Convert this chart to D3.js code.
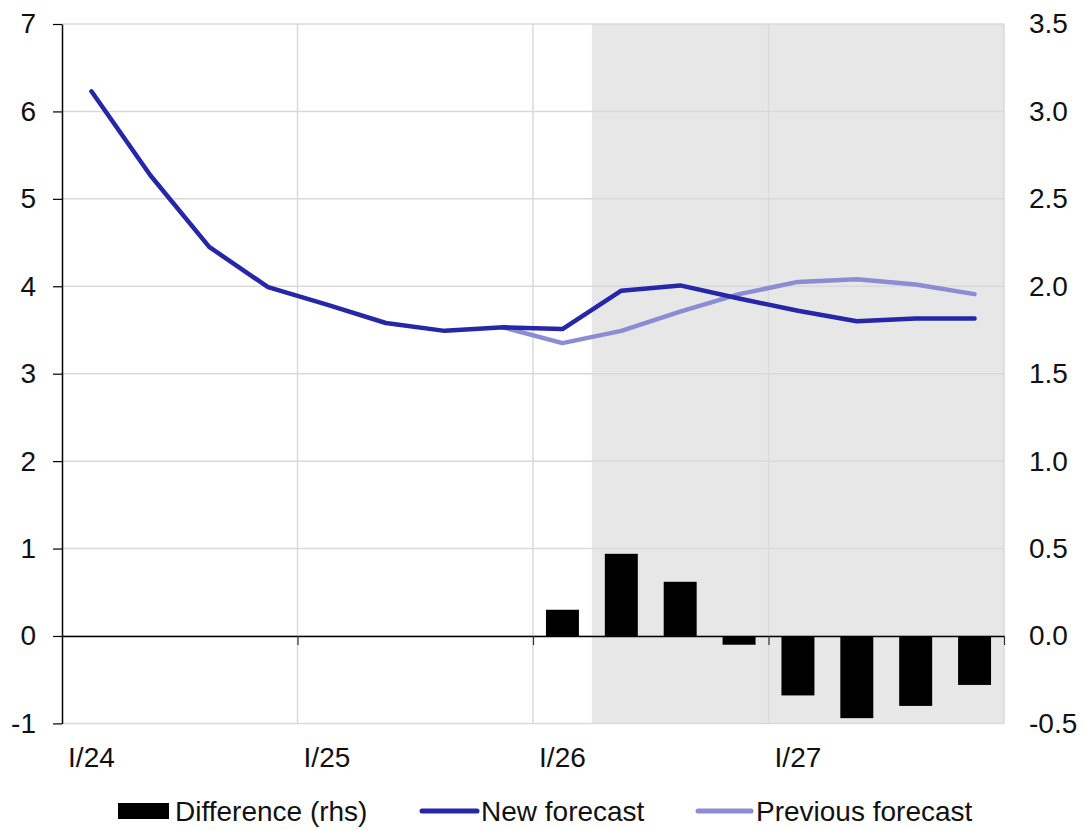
<!DOCTYPE html>
<html>
<head>
<meta charset="utf-8">
<script src="https://cdn.jsdelivr.net/npm/d3@7"></script>
<style>
  html, body { margin: 0; padding: 0; background: #fff; }
  svg { display: block; font-family: "Liberation Sans", Arial, sans-serif; }
</style>
</head>
<body>
<svg id="chart" width="1084" height="830"></svg>
<script>
// ---- Data ----
const quarters = [
  "I/24","II/24","III/24","IV/24",
  "I/25","II/25","III/25","IV/25",
  "I/26","II/26","III/26","IV/26",
  "I/27","II/27","III/27","IV/27"
];
const xTickLabels = ["I/24","I/25","I/26","I/27"];
const newForecast = [6.23, 5.27, 4.45, 3.99, 3.79, 3.58, 3.49, 3.53, 3.51, 3.95, 4.01, 3.86, 3.72, 3.60, 3.63, 3.63];
const previousForecast = [null, null, null, null, null, null, null, 3.53, 3.35, 3.49, 3.71, 3.91, 4.05, 4.08, 4.02, 3.91];
const difference = [null, null, null, null, null, null, null, null, 0.15, 0.47, 0.31, -0.05, -0.34, -0.47, -0.40, -0.28];
const leftTicks = [-1, 0, 1, 2, 3, 4, 5, 6, 7];
const rightTicks = [-0.5, 0, 0.5, 1.0, 1.5, 2.0, 2.5, 3.0, 3.5];
const forecastStart = "II/26";
const legendItems = ["Difference (rhs)", "New forecast", "Previous forecast"];

// ---- Layout ----
const L = 62, R = 1004, T = 24, B = 723.4;
const FS = 28;
const cNew = "#2626a8", cPrev = "#8c8cd4", cGrid = "#d9d9d9", cShade = "#e7e7e7";

const svg = d3.select("#chart");

const x = d3.scaleBand().domain(quarters).range([L, R]).padding(0);
const xBar = d3.scaleBand().domain(quarters).range([L, R]).paddingInner(0.44).paddingOuter(0.22);
const xEdge = d3.scaleLinear().domain([0, quarters.length]).range([L, R]);
const yL = d3.scaleLinear().domain([-1, 7]).range([B, T]);
const yR = d3.scaleLinear().domain([-0.5, 3.5]).range([B, T]);
const cx = q => x(q) + x.bandwidth() / 2;
const hy = f => d => f(d).replace("\u2212", "-");

// Forecast shading
svg.append("rect")
  .attr("x", x(forecastStart)).attr("y", T)
  .attr("width", R - x(forecastStart)).attr("height", B - T)
  .attr("fill", cShade);

// Horizontal gridlines
svg.append("g").selectAll("line").data(leftTicks).join("line")
  .attr("x1", L).attr("x2", R)
  .attr("y1", d => yL(d)).attr("y2", d => yL(d))
  .attr("stroke", cGrid).attr("stroke-width", 1.5);

// Vertical gridlines at year starts
const yearEdges = [4, 8, 12, 16];
svg.append("g").selectAll("line").data(yearEdges).join("line")
  .attr("x1", d => xEdge(d)).attr("x2", d => xEdge(d))
  .attr("y1", T).attr("y2", B)
  .attr("stroke", cGrid).attr("stroke-width", 1.5);

// Bars (right axis)
const barData = quarters.map((q, i) => ({ q, v: difference[i] })).filter(d => d.v !== null);
svg.append("g").selectAll("rect").data(barData).join("rect")
  .attr("x", d => xBar(d.q))
  .attr("width", xBar.bandwidth())
  .attr("y", d => yR(Math.max(0, d.v)))
  .attr("height", d => Math.abs(yR(d.v) - yR(0)))
  .attr("fill", "#000");

// Zero line with year ticks
const zeroAxis = svg.append("g")
  .attr("transform", `translate(0,${yL(0)})`)
  .call(d3.axisBottom(xEdge).tickValues(yearEdges).tickSize(9).tickSizeOuter(0).tickFormat(""));
zeroAxis.select(".domain").attr("stroke", "#000").attr("stroke-width", 1.5);
zeroAxis.selectAll(".tick line").attr("stroke", "#333").attr("stroke-width", 1.2);

// Lines
const line = d3.line()
  .defined(d => d.v !== null)
  .x(d => cx(d.q))
  .y(d => yL(d.v));
svg.append("path")
  .datum(quarters.map((q, i) => ({ q, v: previousForecast[i] })))
  .attr("d", line).attr("fill", "none")
  .attr("stroke", cPrev).attr("stroke-width", 4.5)
  .attr("stroke-linejoin", "round").attr("stroke-linecap", "round");
svg.append("path")
  .datum(quarters.map((q, i) => ({ q, v: newForecast[i] })))
  .attr("d", line).attr("fill", "none")
  .attr("stroke", cNew).attr("stroke-width", 4.5)
  .attr("stroke-linejoin", "round").attr("stroke-linecap", "round");

// Left axis
const la = svg.append("g")
  .attr("transform", `translate(${L},0)`)
  .call(d3.axisLeft(yL).tickValues(leftTicks).tickSize(9).tickSizeOuter(0).tickPadding(17).tickFormat(hy(d3.format("d"))));
la.select(".domain").attr("stroke", "#000").attr("stroke-width", 1.5);
la.selectAll(".tick line").attr("stroke", "#000").attr("stroke-width", 1.2);
la.selectAll("text").attr("font-size", FS).attr("fill", "#111")
  .attr("font-family", "'Liberation Sans', Arial, sans-serif");

// Right axis labels
const ra = svg.append("g")
  .attr("transform", `translate(${R},0)`)
  .call(d3.axisRight(yR).tickValues(rightTicks).tickSize(0).tickPadding(25).tickFormat(hy(d3.format(".1f"))));
ra.select(".domain").remove();
ra.selectAll("text").attr("font-size", FS).attr("fill", "#111")
  .attr("font-family", "'Liberation Sans', Arial, sans-serif");

// X axis labels
const xa = svg.append("g")
  .attr("transform", `translate(0,${B})`)
  .call(d3.axisBottom(x).tickValues(xTickLabels).tickSize(0).tickPadding(24));
xa.select(".domain").remove();
xa.selectAll("text").attr("font-size", FS).attr("fill", "#111")
  .attr("font-family", "'Liberation Sans', Arial, sans-serif");

// Legend
const ly = 811;
const lg = svg.append("g").attr("font-size", FS).attr("fill", "#111");
lg.append("rect").attr("x", 118).attr("y", ly - 8).attr("width", 51).attr("height", 16).attr("fill", "#000");
lg.append("text").attr("x", 175).attr("y", ly).attr("dy", "0.35em").text(legendItems[0]);
lg.append("line").attr("x1", 422).attr("x2", 477).attr("y1", ly).attr("y2", ly)
  .attr("stroke", cNew).attr("stroke-width", 5).attr("stroke-linecap", "round");
lg.append("text").attr("x", 481).attr("y", ly).attr("dy", "0.35em").text(legendItems[1]);
lg.append("line").attr("x1", 698).attr("x2", 751).attr("y1", ly).attr("y2", ly)
  .attr("stroke", cPrev).attr("stroke-width", 5).attr("stroke-linecap", "round");
lg.append("text").attr("x", 756).attr("y", ly).attr("dy", "0.35em").text(legendItems[2]);
</script>
</body>
</html>
